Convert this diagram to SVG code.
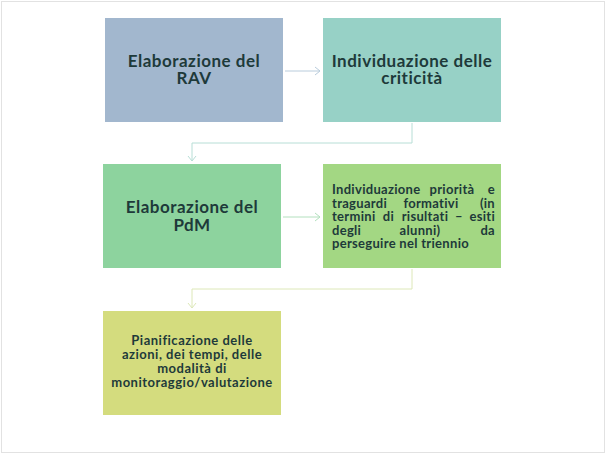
<svg xmlns="http://www.w3.org/2000/svg" width="607" height="454" viewBox="0 0 607 454">
<defs>
<style>
.t{font-family:Lato,"Liberation Sans",sans-serif;font-weight:bold;fill:#1E3A3A;}
.big{font-size:17px;letter-spacing:0.5px;text-anchor:middle;}
.sm{font-size:13px;letter-spacing:0.3px;}
.m{text-anchor:middle;}
.e{text-anchor:end;}
.smc{font-size:13px;letter-spacing:0.5px;text-anchor:middle;}
.c{fill:none;stroke-width:1;}
</style>
<marker id="a1" markerWidth="10" markerHeight="10" refX="8" refY="5" orient="auto" markerUnits="userSpaceOnUse"><path d="M3,1 L8,5 L3,9" fill="none" stroke="#B9CCDC" stroke-width="1"/></marker>
<marker id="a2" markerWidth="10" markerHeight="10" refX="8" refY="5" orient="auto" markerUnits="userSpaceOnUse"><path d="M3,1 L8,5 L3,9" fill="none" stroke="#B7DED6" stroke-width="1"/></marker>
<marker id="a3" markerWidth="10" markerHeight="10" refX="8" refY="5" orient="auto" markerUnits="userSpaceOnUse"><path d="M3,1 L8,5 L3,9" fill="none" stroke="#B3E0BE" stroke-width="1"/></marker>
<marker id="a4" markerWidth="10" markerHeight="10" refX="8" refY="5" orient="auto" markerUnits="userSpaceOnUse"><path d="M3,1 L8,5 L3,9" fill="none" stroke="#DDE8B8" stroke-width="1"/></marker>
</defs>
<rect x="0" y="0" width="607" height="454" fill="#FFFFFF"/>
<rect x="1.5" y="1.5" width="603" height="451" fill="none" stroke="#E2E2E2" stroke-width="1"/>
<g id="connectors">
<path class="c" d="M285,71 L320,71" stroke="#B9CCDC" marker-end="url(#a1)"/>
<path class="c" d="M412,123 L412,143 L192,143 L192,161" stroke="#B7DED6" marker-end="url(#a2)"/>
<path class="c" d="M283,217 L320,217" stroke="#B3E0BE" marker-end="url(#a3)"/>
<path class="c" d="M412,269 L412,289 L192,289 L192,308" stroke="#DDE8B8" marker-end="url(#a4)"/>
</g>
<g id="n1">
<rect x="105" y="18" width="178" height="104" fill="#A2B7CE"/>
<text class="t big" x="194" y="67">Elaborazione del</text>
<text class="t big" x="194" y="84">RAV</text>
</g>
<g id="n2">
<rect x="323" y="18" width="178" height="104" fill="#97D1C6"/>
<text class="t big" x="412" y="67">Individuazione delle</text>
<text class="t big" x="412" y="84">criticità</text>
</g>
<g id="n3">
<rect x="103" y="164" width="178" height="104" fill="#8DD39E"/>
<text class="t big" x="192" y="213">Elaborazione del</text>
<text class="t big" x="192" y="231">PdM</text>
</g>
<g id="n4">
<rect x="323" y="164" width="178" height="104" fill="#A3D783"/>
<text class="t sm" y="194"><tspan x="332">Individuazione</tspan><tspan class="m" x="452">priorità</tspan><tspan class="e" x="495">e</tspan></text>
<text class="t sm" y="207.5"><tspan x="332">traguardi</tspan><tspan class="m" x="431">formativi</tspan><tspan class="e" x="495">(in</tspan></text>
<text class="t sm" y="221"><tspan x="332">termini</tspan><tspan class="m" x="388.5">di</tspan><tspan class="m" x="425">risultati</tspan><tspan class="m" x="459">–</tspan><tspan class="e" x="495">esiti</tspan></text>
<text class="t sm" y="234.5"><tspan x="332">degli</tspan><tspan class="m" x="420">alunni)</tspan><tspan class="e" x="495">da</tspan></text>
<text class="t sm" x="332" y="248">perseguire nel triennio</text>
</g>
<g id="n5">
<rect x="103" y="311" width="178" height="104" fill="#D4DC7E"/>
<text class="t smc" x="192" y="345">Pianificazione delle</text>
<text class="t smc" x="192" y="359">azioni, dei tempi, delle</text>
<text class="t smc" x="192" y="373">modalità di</text>
<text class="t smc" x="192" y="387">monitoraggio/valutazione</text>
</g>
</svg>
